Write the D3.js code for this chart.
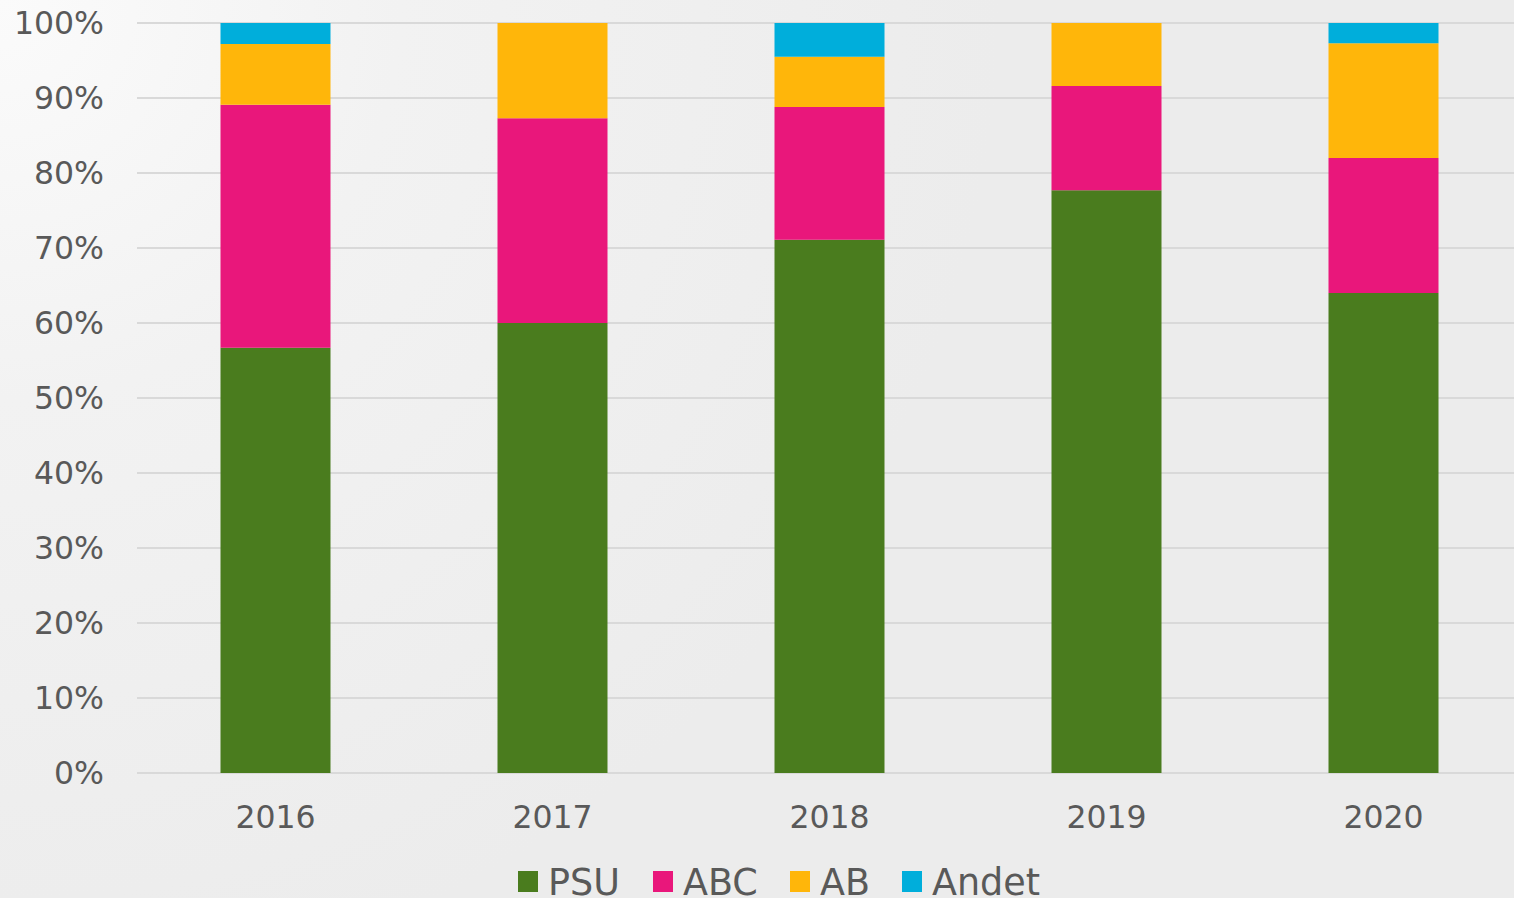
<!DOCTYPE html>
<html>
<head>
<meta charset="utf-8">
<script src="https://cdn.jsdelivr.net/npm/d3@7"></script>
<style>
  html, body { margin: 0; padding: 0; }
  svg { display: block; }
</style>
</head>
<body>
<svg id="canvas"></svg>
<script>
// data (percent of total)
const years = ["2016", "2017", "2018", "2019", "2020"];
const keys = ["PSU", "ABC", "AB", "Andet"];
const psu = [56.7, 60.0, 71.1, 77.7, 64.0];
const abc = [32.4, 27.3, 17.7, 13.9, 18.0];
const ab = [8.1, 12.7, 6.7, 8.4, 15.3];
const andet = [2.8, 0.0, 4.5, 0.0, 2.7];
const yTicks = [0, 10, 20, 30, 40, 50, 60, 70, 80, 90, 100];

const data = years.map((y, i) => ({ year: y, PSU: psu[i], ABC: abc[i], AB: ab[i], Andet: andet[i] }));

const width = 1514, height = 898;
const svg = d3.select("#canvas").attr("width", width).attr("height", height);

// margins
const marginTop = 23;
const marginLeft = 137;
const marginRight = 0;
const plotBottom = 773;

// background with a light corner
const defs = svg.append("defs");
const grad = defs.append("radialGradient")
    .attr("id", "bg")
    .attr("gradientUnits", "userSpaceOnUse")
    .attr("cx", 0).attr("cy", 0).attr("r", 1000);
grad.append("stop").attr("offset", "0%").attr("stop-color", "#fbfbfb");
grad.append("stop").attr("offset", "40%").attr("stop-color", "#f2f2f2");
grad.append("stop").attr("offset", "100%").attr("stop-color", "#ececec");
svg.append("rect").attr("width", width).attr("height", height).attr("fill", "url(#bg)");

const color = d3.scaleOrdinal()
    .domain(keys)
    .range(["#4a7c1e", "#e9177b", "#ffb60a", "#00aedb"]);

const x = d3.scalePoint()
    .domain(years)
    .range([marginLeft, 1522])
    .padding(0.5);
const barWidth = 110;

const y = d3.scaleLinear()
    .domain([0, 100])
    .range([plotBottom, marginTop]);

const font = "Verdana, DejaVu Sans, sans-serif";

// gridlines
svg.append("g")
    .selectAll("line")
    .data(yTicks)
    .join("line")
    .attr("x1", marginLeft)
    .attr("x2", width - marginRight)
    .attr("y1", d => y(d))
    .attr("y2", d => y(d))
    .attr("stroke", "#d9d9d9")
    .attr("stroke-width", 2);

// y tick labels
svg.append("g")
    .selectAll("text")
    .data(yTicks)
    .join("text")
    .attr("x", 104)
    .attr("y", d => y(d) + 11)
    .attr("text-anchor", "end")
    .attr("font-family", font)
    .attr("font-size", 31.5)
    .attr("fill", "#595959")
    .text(d => d + "%");

// stacked bars
const series = d3.stack().keys(keys)(data);

svg.append("g")
    .selectAll("g")
    .data(series)
    .join("g")
    .attr("fill", d => color(d.key))
    .selectAll("rect")
    .data(d => d)
    .join("rect")
    .attr("x", d => x(d.data.year) - barWidth / 2)
    .attr("width", barWidth)
    .attr("y", d => y(d[1]))
    .attr("height", d => Math.max(0, y(d[0]) - y(d[1])));

// x labels
svg.append("g")
    .selectAll("text")
    .data(years)
    .join("text")
    .attr("x", d => x(d))
    .attr("y", 828)
    .attr("text-anchor", "middle")
    .attr("font-family", font)
    .attr("font-size", 31.5)
    .attr("fill", "#595959")
    .text(d => d);

// legend
const legendX = [518, 653, 790, 902];
const legend = svg.append("g")
    .selectAll("g")
    .data(keys)
    .join("g")
    .attr("transform", (d, i) => `translate(${legendX[i]},0)`);

legend.append("rect")
    .attr("x", 0)
    .attr("y", 871)
    .attr("width", 20)
    .attr("height", 21)
    .attr("fill", d => color(d));

legend.append("text")
    .attr("x", 30)
    .attr("y", 895)
    .attr("font-family", font)
    .attr("font-size", 36.5)
    .attr("fill", "#595959")
    .text(d => d);
</script>
</body>
</html>
